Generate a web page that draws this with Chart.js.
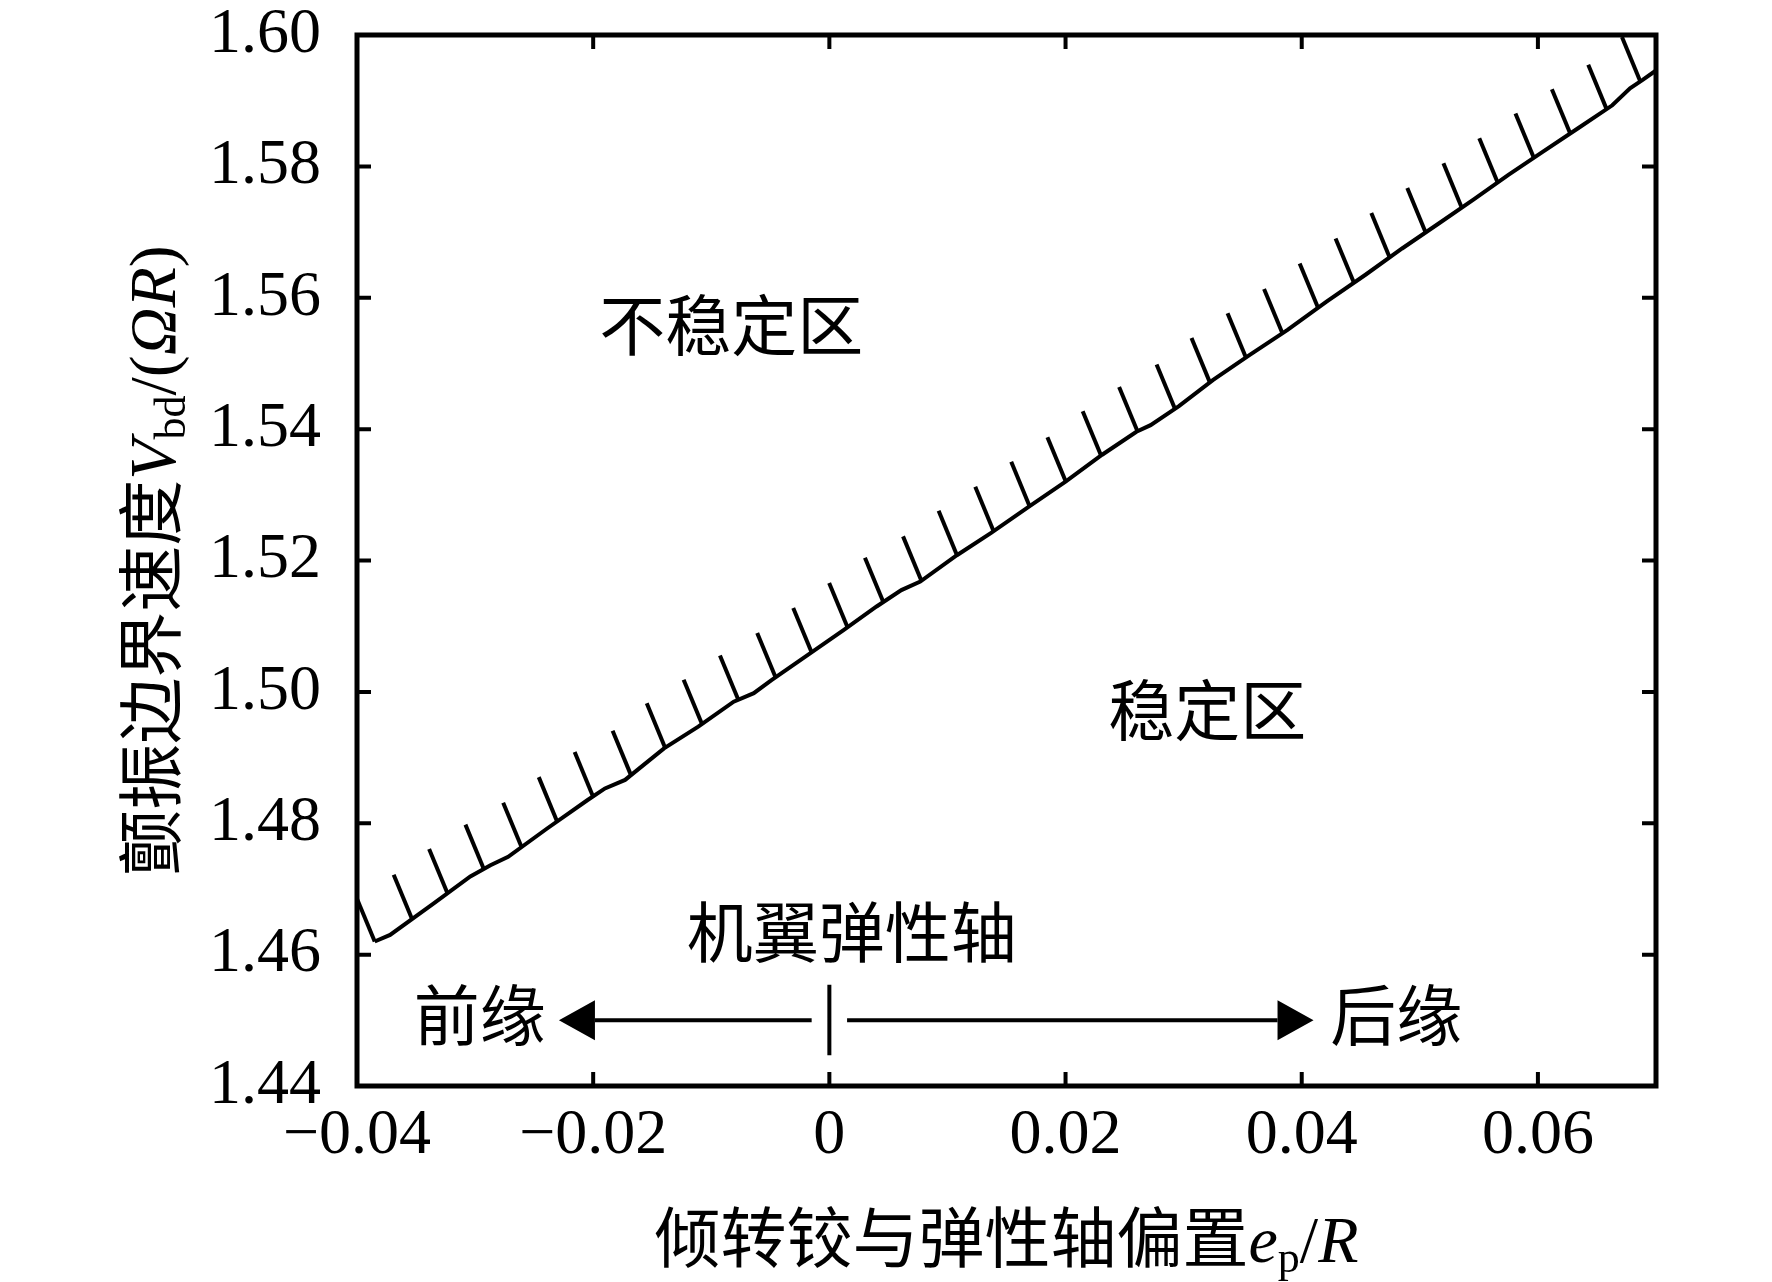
<!DOCTYPE html>
<html>
<head>
<meta charset="utf-8">
<script src="https://cdn.jsdelivr.net/npm/chart.js@4.4.1/dist/chart.umd.min.js"></script>
<style>
  html, body { margin: 0; padding: 0; background: #fff; }
  #wrap { width: 1772px; height: 1282px; }
</style>
</head>
<body>
<div id="wrap"><canvas id="flutter" width="1772" height="1282"></canvas></div>
<script>
// flutter boundary speed vs. hinge / elastic axis offset
const offsetEp = [
  -0.0385, -0.0372, -0.0335, -0.0304, -0.0287, -0.0272, -0.0239, -0.0205, -0.0190, -0.0173,
  -0.0140, -0.0111, -0.0081, -0.0064, -0.0049, -0.0020, 0.0012, 0.0040, 0.0061, 0.0077,
  0.0108, 0.0137, 0.0169, 0.0200, 0.0231, 0.0260, 0.0272, 0.0296, 0.0325, 0.0356,
  0.0388, 0.0421, 0.0454, 0.0485, 0.0516, 0.0546, 0.0575, 0.0604, 0.0634, 0.0663,
  0.0678, 0.0689, 0.0700
];
const boundaryVbd = [
  1.4620, 1.4630, 1.4678, 1.4719, 1.4736, 1.4749, 1.4792, 1.4835, 1.4853, 1.4866,
  1.4914, 1.4947, 1.4985, 1.4998, 1.5018, 1.5054, 1.5094, 1.5130, 1.5155, 1.5168,
  1.5208, 1.5242, 1.5282, 1.5320, 1.5361, 1.5396, 1.5406, 1.5435, 1.5475, 1.5513,
  1.5551, 1.5594, 1.5635, 1.5675, 1.5713, 1.5750, 1.5787, 1.5822, 1.5858, 1.5893,
  1.5919, 1.5932, 1.5946
];

const xTicks = [-0.04, -0.02, 0, 0.02, 0.04, 0.06];
const xTickLabels = ['\u22120.04', '\u22120.02', '0', '0.02', '0.04', '0.06'];
const yTicks = [1.44, 1.46, 1.48, 1.50, 1.52, 1.54, 1.56, 1.58, 1.60];
const yTickLabels = ['1.44', '1.46', '1.48', '1.50', '1.52', '1.54', '1.56', '1.58', '1.60'];

// text placed on the plot (data coordinates)
const notes = [
  { text: '不稳定区', x: -0.0083, y: 1.5559 },
  { text: '稳定区', x: 0.0320, y: 1.4972 },
  { text: '机翼弹性轴', x: 0.0019, y: 1.4635 },
  { text: '前缘', x: -0.0296, y: 1.4508 },
  { text: '后缘', x: 0.0480, y: 1.4508 }
];
const arrow = { y: 1.4500, leftTip: -0.0229, rightTip: 0.0410, gap: 0.0015, markLow: 1.4447, markHigh: 1.4554 };

const CJK = '"Noto Sans CJK SC", sans-serif';
const SERIF = '"Liberation Serif", serif';

function drawRich(ctx, parts, cx, baseline) {
  let total = 0;
  parts.forEach(p => { ctx.font = p.font; p.w = ctx.measureText(p.text).width; total += p.w; });
  let x = cx - total / 2;
  parts.forEach(p => {
    ctx.font = p.font;
    ctx.fillText(p.text, x, baseline + (p.dy || 0));
    x += p.w;
  });
}

// frame, inward ticks, hatching, annotations, axis titles
const decorations = {
  id: 'decorations',
  afterDatasetsDraw(chart) {
    const { ctx, chartArea: a, scales } = chart;
    const xs = scales.x, ys = scales.y;

    // hatch marks on the unstable side of the boundary
    const pts = chart.getDatasetMeta(0).data;
    const spacing = 43.8, len = 48;
    const ang = 22.5 * Math.PI / 180;
    const dx = -Math.sin(ang) * len, dy = -Math.cos(ang) * len;
    ctx.save();
    ctx.beginPath();
    ctx.rect(a.left, a.top, a.right - a.left, a.bottom - a.top);
    ctx.clip();
    ctx.strokeStyle = '#000';
    ctx.lineWidth = 4;
    let next = 0, run = 0;
    for (let i = 0; i < pts.length - 1; i++) {
      const p0 = pts[i], p1 = pts[i + 1];
      const seg = Math.hypot(p1.x - p0.x, p1.y - p0.y);
      while (next <= run + seg) {
        const t = (next - run) / seg;
        const hx = p0.x + (p1.x - p0.x) * t, hy = p0.y + (p1.y - p0.y) * t;
        ctx.beginPath();
        ctx.moveTo(hx, hy);
        ctx.lineTo(hx + dx, hy + dy);
        ctx.stroke();
        next += spacing;
      }
      run += seg;
    }
    ctx.restore();

    ctx.save();
    ctx.strokeStyle = '#000';
    ctx.fillStyle = '#000';

    // frame
    ctx.lineWidth = 5;
    ctx.strokeRect(a.left, a.top, a.right - a.left, a.bottom - a.top);

    // inward ticks on all four sides
    ctx.lineWidth = 4;
    const tl = 14;
    xs.ticks.forEach(t => {
      const px = xs.getPixelForValue(t.value);
      ctx.beginPath();
      ctx.moveTo(px, a.bottom); ctx.lineTo(px, a.bottom - tl);
      ctx.moveTo(px, a.top); ctx.lineTo(px, a.top + tl);
      ctx.stroke();
    });
    ys.ticks.forEach(t => {
      const py = ys.getPixelForValue(t.value);
      ctx.beginPath();
      ctx.moveTo(a.left, py); ctx.lineTo(a.left + tl, py);
      ctx.moveTo(a.right, py); ctx.lineTo(a.right - tl, py);
      ctx.stroke();
    });

    // elastic axis arrows
    const ay = ys.getPixelForValue(arrow.y);
    const x0 = xs.getPixelForValue(0);
    const lt = xs.getPixelForValue(arrow.leftTip), rt = xs.getPixelForValue(arrow.rightTip);
    const g = xs.getPixelForValue(arrow.gap) - x0;
    const hl = 36, hw = 20;
    ctx.lineWidth = 4;
    ctx.beginPath();
    ctx.moveTo(x0 - g, ay); ctx.lineTo(lt + hl, ay);
    ctx.moveTo(x0 + g, ay); ctx.lineTo(rt - hl, ay);
    ctx.moveTo(x0, ys.getPixelForValue(arrow.markLow));
    ctx.lineTo(x0, ys.getPixelForValue(arrow.markHigh));
    ctx.stroke();
    ctx.beginPath();
    ctx.moveTo(lt, ay); ctx.lineTo(lt + hl, ay - hw); ctx.lineTo(lt + hl, ay + hw); ctx.closePath();
    ctx.moveTo(rt, ay); ctx.lineTo(rt - hl, ay - hw); ctx.lineTo(rt - hl, ay + hw); ctx.closePath();
    ctx.fill();

    // region labels
    ctx.font = '66px ' + CJK;
    ctx.textAlign = 'center';
    ctx.textBaseline = 'middle';
    notes.forEach(n => ctx.fillText(n.text, xs.getPixelForValue(n.x), ys.getPixelForValue(n.y)));

    // axis titles
    ctx.textAlign = 'left';
    ctx.textBaseline = 'alphabetic';
    drawRich(ctx, [
      { text: '倾转铰与弹性轴偏置', font: '66px ' + CJK },
      { text: 'e', font: 'italic 66px ' + SERIF },
      { text: 'p', font: '44px ' + SERIF, dy: 10 },
      { text: '/', font: '66px ' + SERIF },
      { text: 'R', font: 'italic 66px ' + SERIF }
    ], (a.left + a.right) / 2, 1262);

    ctx.translate(175, (a.top + a.bottom) / 2);
    ctx.rotate(-Math.PI / 2);
    drawRich(ctx, [
      { text: '颤振边界速度', font: '66px ' + CJK },
      { text: 'V', font: 'italic 66px ' + SERIF },
      { text: 'bd', font: '44px ' + SERIF, dy: 10 },
      { text: '/(', font: '66px ' + SERIF },
      { text: 'ΩR', font: 'italic 66px ' + SERIF },
      { text: ')', font: '66px ' + SERIF }
    ], 0, 0);
    ctx.restore();
  }
};

new Chart(document.getElementById('flutter'), {
  type: 'scatter',
  data: {
    datasets: [{
      data: offsetEp.map((x, i) => ({ x, y: boundaryVbd[i] })),
      showLine: true,
      borderColor: '#000',
      borderWidth: 4,
      pointRadius: 0,
      tension: 0
    }]
  },
  options: {
    responsive: false,
    devicePixelRatio: 1,
    animation: false,
    layout: { padding: { top: 35, right: 116, left: 0, bottom: 0 } },
    plugins: { legend: { display: false }, tooltip: { enabled: false } },
    scales: {
      x: {
        type: 'linear',
        min: -0.04,
        max: 0.07,
        afterBuildTicks: s => { s.ticks = xTicks.map(v => ({ value: v })); },
        afterFit: s => { s.height = 196; s.paddingLeft = 0; s.paddingRight = 0; },
        grid: { display: false },
        border: { display: false },
        ticks: {
          color: '#000',
          font: { family: SERIF, size: 64, lineHeight: 1 },
          padding: 10,
          maxRotation: 0,
          autoSkip: false,
          callback: (v, i) => xTickLabels[i]
        }
      },
      y: {
        type: 'linear',
        min: 1.44,
        max: 1.60,
        afterBuildTicks: s => { s.ticks = yTicks.map(v => ({ value: v })); },
        afterFit: s => { s.width = 357; s.paddingTop = 0; s.paddingBottom = 0; },
        grid: { display: false },
        border: { display: false },
        ticks: {
          color: '#000',
          font: { family: SERIF, size: 64, lineHeight: 1 },
          padding: 28,
          autoSkip: false,
          callback: (v, i) => yTickLabels[i]
        }
      }
    }
  },
  plugins: [decorations]
});
</script>
</body>
</html>
